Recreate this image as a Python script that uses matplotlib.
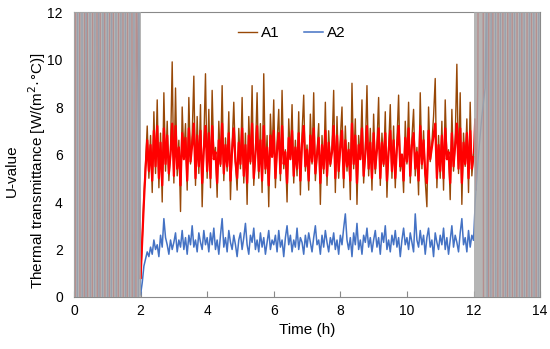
import numpy as np
import matplotlib
matplotlib.use('Agg')
import matplotlib.pyplot as plt

plt.rcParams['font.family'] = ['Liberation Sans', 'DejaVu Sans']

# time grid of the measured part: 2.00 h .. 12.00 h, every 0.05 h
t_main = np.round(np.arange(2.0, 12.0001, 0.05), 2)

a1 = [
    0.8, 2.4, 4.2, 5.6, 7.2, 5.0, 6.8, 4.4, 7.8, 5.2, 8.3, 4.6, 6.9, 4.0, 8.6, 5.3, 7.4, 4.9, 6.2, 9.9,
    4.8, 8.8, 5.1, 6.6, 3.6, 8.0, 5.9, 7.3, 4.5, 8.4, 5.6, 6.8, 9.3, 4.7, 7.6, 5.2, 8.1, 3.8, 6.5, 9.4,
    5.0, 7.9, 4.6, 8.7, 5.8, 6.3, 4.2, 7.4, 5.5, 8.9, 4.9, 6.7, 5.3, 7.8, 4.1, 6.4, 8.2, 5.7, 4.5, 7.1,
    5.4, 8.4, 4.8, 6.9, 3.9, 7.6, 5.6, 8.9, 4.7, 6.1, 8.6, 5.0, 7.3, 4.4, 9.4, 5.2, 6.8, 3.8, 7.7, 5.9,
    8.3, 4.6, 6.5, 7.9, 4.9, 8.7, 5.4, 6.2, 4.0, 7.5, 5.8, 8.1, 4.8, 6.6, 5.1, 7.8, 4.3, 6.9, 8.5, 5.3,
    6.4, 4.5, 7.7, 5.6, 8.6, 4.9, 6.1, 7.3, 3.9, 6.8, 5.2, 8.2, 4.7, 7.0, 5.5, 6.3, 8.7, 4.4, 7.6, 5.0,
    6.7, 8.0, 4.6, 7.2, 5.3, 6.5, 4.1, 9.0, 5.4, 7.5, 3.9, 6.8, 5.8, 8.3, 4.8, 6.2, 8.9, 5.1, 7.1, 4.5,
    7.7, 5.2, 6.4, 8.4, 4.7, 6.9, 5.5, 7.8, 4.2, 6.3, 8.1, 5.0, 7.2, 4.6, 6.6, 8.5, 5.3, 6.0, 4.4, 7.4,
    5.6, 8.2, 4.8, 6.7, 7.9, 5.1, 6.3, 4.3, 8.6, 5.4, 7.0, 4.9, 3.8, 8.0, 5.7, 6.5, 7.6, 9.2, 4.6, 6.8,
    5.0, 7.4, 4.5, 8.3, 5.8, 6.2, 4.1, 7.9, 5.3, 6.6, 9.8, 5.2, 8.6, 3.9, 6.9, 5.5, 7.5, 4.4, 8.2, 5.1,
    6.0,
]

a1_red = [
    0.8, 2.4, 4.0, 5.4, 6.6, 5.3, 6.4, 4.9, 7.0, 5.5, 7.2, 5.0, 6.5, 4.7, 7.1, 5.6, 6.8, 5.2, 6.0, 7.3,
    5.1, 7.2, 5.4, 6.3, 4.7, 6.9, 5.8, 6.7, 4.9, 7.1, 5.7, 6.4, 7.3, 5.0, 6.8, 5.5, 7.0, 4.8, 6.2, 7.2,
    5.3, 6.9, 5.0, 7.2, 5.8, 6.1, 4.8, 6.6, 5.6, 7.3, 5.2, 6.4, 5.5, 6.9, 4.9, 6.2, 7.1, 5.7, 5.0, 6.5,
    5.6, 7.1, 5.1, 6.4, 4.8, 6.8, 5.7, 7.3, 5.0, 6.0, 7.2, 5.3, 6.6, 4.9, 7.2, 5.4, 6.3, 4.7, 6.8, 5.9,
    7.0, 5.0, 6.2, 6.9, 5.2, 7.2, 5.6, 6.1, 4.8, 6.7, 5.8, 7.0, 5.1, 6.3, 5.4, 6.9, 4.9, 6.5, 7.2, 5.5,
    6.2, 4.9, 6.8, 5.7, 7.1, 5.2, 6.0, 6.7, 4.8, 6.4, 5.4, 7.0, 5.1, 6.5, 5.6, 6.1, 7.2, 5.0, 6.8, 5.3,
    6.3, 7.0, 5.0, 6.6, 5.5, 6.2, 4.9, 7.3, 5.6, 6.8, 4.8, 6.4, 5.8, 7.1, 5.1, 6.0, 7.2, 5.4, 6.5, 5.0,
    6.9, 5.4, 6.2, 7.1, 5.0, 6.5, 5.6, 6.9, 4.9, 6.1, 7.0, 5.3, 6.6, 5.0, 6.3, 7.2, 5.5, 6.0, 4.9, 6.7,
    5.7, 7.1, 5.1, 6.4, 6.9, 5.4, 6.1, 4.9, 7.2, 5.6, 6.6, 5.2, 4.8, 7.0, 5.8, 6.3, 6.8, 7.3, 5.0, 6.4,
    5.3, 6.8, 5.0, 7.1, 5.8, 6.1, 4.8, 6.9, 5.5, 6.4, 7.3, 5.4, 7.1, 4.8, 6.5, 5.6, 6.9, 5.0, 7.0, 5.4,
    5.9,
]

a2 = [
    0.1, 0.6, 1.3, 1.6, 1.9, 1.7, 2.1, 1.8, 2.4, 2.0, 2.2, 1.7, 2.6, 2.1, 3.3, 2.5, 2.2, 1.8, 2.4, 2.0,
    2.3, 2.7, 1.9, 2.4, 2.1, 2.8, 2.0, 2.5, 1.8, 2.6, 2.2, 3.0, 2.1, 2.4, 1.9, 2.7, 2.3, 2.0, 2.8, 2.2,
    2.5, 1.9, 2.7, 2.2, 2.9, 2.0, 2.4, 1.8, 2.6, 3.3, 2.1, 2.5, 1.9, 2.8, 2.3, 2.0, 2.6, 2.2, 1.7, 2.4,
    2.7, 2.0, 2.5, 3.1, 2.2, 1.8, 2.6, 2.3, 2.9, 2.0, 2.4, 1.9, 2.7, 2.1, 2.5, 1.8, 2.3, 2.8, 2.0, 2.4,
    2.2, 2.6, 1.9, 2.8, 2.1, 2.4, 1.7, 2.5, 3.0, 2.2, 2.6, 1.9, 2.4, 2.1, 2.9, 2.0, 2.5, 2.3, 1.8, 2.6,
    2.1, 2.7, 2.3, 1.9, 2.5, 3.0, 2.2, 2.4, 1.8, 2.6, 2.1, 2.8, 2.3, 1.9, 2.5, 2.2, 2.7, 2.0, 2.4, 1.8,
    2.6, 2.2, 2.9, 3.5, 2.4, 2.0, 2.5, 1.7, 2.7, 2.2, 3.1, 2.0, 2.4, 1.8, 2.6, 2.3, 2.9, 2.1, 2.5, 1.9,
    2.4, 2.8, 2.1, 2.5, 1.8, 2.7, 2.3, 3.0, 2.0, 2.4, 1.9, 2.6, 2.2, 2.8, 2.1, 2.5, 1.7, 2.4, 2.9, 2.2,
    2.5, 2.0, 2.7, 2.3, 1.9, 3.5, 2.4, 2.1, 2.8, 2.2, 2.6, 1.8, 2.5, 2.9, 2.1, 2.4, 1.7, 2.7, 2.3, 2.0,
    2.6, 2.2, 2.9, 2.0, 2.5, 1.8, 2.4, 3.0, 2.1, 2.6, 2.3, 1.9, 2.7, 3.3, 2.2, 2.5, 1.9, 2.8, 2.1, 2.6,
    2.4,
]

# unstable start-up / shut-down parts (swinging off-scale, hidden under the grey bands)
t1_pre = [0.04, 0.05, 0.17, 0.18, 0.31, 0.32, 0.40, 0.41, 0.55, 0.56, 0.69, 0.70,
          0.78, 0.79, 0.92, 0.93, 1.06, 1.07, 1.18, 1.19, 1.33, 1.34, 1.47, 1.48,
          1.60, 1.61, 1.74, 1.75, 1.86, 1.87, 2.0]
a1_pre = [-1, 14, 14, -1, -1, 14, 14, -1, -1, 14, 14, -1, -1, 14, 14, -1,
          -1, 14, 14, -1, -1, 14, 14, -1, -1, 14, 14, -1, -1, 14, 0.8]
t2_pre = [0.10, 0.11, 0.24, 0.25, 0.36, 0.37, 0.48, 0.49, 0.62, 0.63, 0.74, 0.75,
          0.86, 0.87, 1.00, 1.01, 1.12, 1.13, 1.26, 1.27, 1.40, 1.41, 1.54, 1.55,
          1.67, 1.68, 1.80, 1.81, 1.93, 1.94, 2.0]
a2_pre = [-1, 14, 14, -1, -1, 14, 14, -1, -1, 14, 14, -1, -1, 14, 14, -1,
          -1, 14, 14, -1, -1, 14, 14, -1, -1, 14, 14, -1, -1, 14, 0.1]
t1_post = [12.0, 12.04, 12.08, 12.13, 12.14, 12.29, 12.30, 12.45, 12.46, 12.58, 12.59,
           12.73, 12.74, 12.88, 12.89, 13.02, 13.03, 13.16, 13.17, 13.30, 13.31,
           13.45, 13.46, 13.60, 13.61, 13.74, 13.75, 13.88, 13.89]
a1_post = [6.0, 7.5, 4.5, 9.0, 14, 14, -1, -1, 14, 14, -1, -1, 14, 14, -1,
           -1, 14, 14, -1, -1, 14, 14, -1, -1, 14, 14, -1, -1, 14]
t2_post = [12.0, 12.05, 12.15, 12.25, 12.35, 12.40, 12.41, 12.52, 12.53, 12.66, 12.67,
           12.80, 12.81, 12.95, 12.96, 13.09, 13.10, 13.23, 13.24, 13.38, 13.39,
           13.52, 13.53, 13.67, 13.68, 13.81, 13.82, 13.95, 13.96]
a2_post = [2.4, 4.0, 6.0, 7.6, 8.8, 14, -1, -1, 14, 14, -1, -1, 14, 14, -1,
           -1, 14, 14, -1, -1, 14, 14, -1, -1, 14, 14, -1, -1, 14]

brown = '#984807'
red = '#ff0000'
blue = '#4472c4'

fig = plt.figure(figsize=(5.5, 3.49), dpi=100)
ax = fig.add_axes([0.1345, 0.149, 0.8475, 0.8166])

ax.plot(t1_pre, a1_pre, color=red, lw=1.0, zorder=1)
ax.plot(t2_pre, a2_pre, color=blue, lw=1.0, zorder=1)
ax.plot(t1_post, a1_post, color=red, lw=1.0, zorder=1)
ax.plot(t2_post, a2_post, color=blue, lw=1.0, zorder=1)

ax.plot(t_main, a1, color=brown, lw=1.0, zorder=2, label='A1')
ax.plot(t_main, a1_red, color=red, lw=1.6, zorder=2.5)
ax.plot(t_main, a2, color=blue, lw=1.1, zorder=2, label='A2')

ax.axvspan(0, 2, color='#a8a8a8', alpha=0.85, lw=0, zorder=3)
ax.axvspan(12, 14, color='#a8a8a8', alpha=0.85, lw=0, zorder=3)

ax.set_xlim(0, 14)
ax.set_ylim(0, 12)
ax.set_xticks(range(0, 15, 2))
ax.set_yticks(range(0, 13, 2))
ax.tick_params(axis='x', direction='in', length=4, color='#898989', labelsize=10, pad=5)
ax.tick_params(axis='y', length=0, labelsize=10, pad=8)
for s in ax.spines.values():
    s.set_color('#898989')
    s.set_linewidth(0.8)

ax.set_xlabel('Time (h)', fontsize=11, labelpad=4)
fig.text(0.022, 0.51, 'U-value', rotation=90, ha='center', va='center', fontsize=11)
fig.text(0.067, 0.51, 'Thermal transmittance [W/(m$^2$·°C)]', rotation=90,
         ha='center', va='center', fontsize=11)

ax.legend(loc='center', bbox_to_anchor=(0.468, 0.926), ncol=2, frameon=False,
          handlelength=1.2, handletextpad=0.3, columnspacing=1.6, fontsize=11)

fig.savefig('out.png', dpi=100)
